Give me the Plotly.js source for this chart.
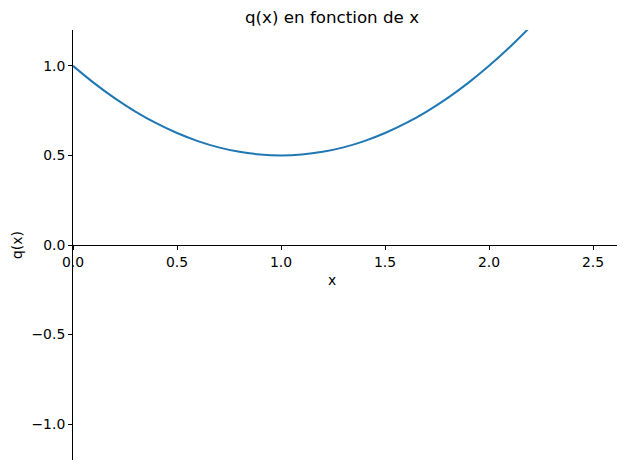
<!DOCTYPE html>
<html>
<head>
<meta charset="utf-8">
<script src="https://cdn.plot.ly/plotly-3.0.1.min.js"></script>
<style>html,body{margin:0;padding:0;background:#fff;} #chart{width:626px;height:470px;}</style>
</head>
<body>
<div id="chart"></div>
<script>
const xValues = [0.0, 0.1, 0.2, 0.3, 0.4, 0.5, 0.6, 0.7, 0.8, 0.9, 1.0, 1.1, 1.2, 1.3, 1.4, 1.5, 1.6, 1.7, 1.8, 1.9, 2.0, 2.1, 2.2, 2.3];
const qValues = [1.0, 0.905, 0.82, 0.745, 0.68, 0.625, 0.58, 0.545, 0.52, 0.505, 0.5, 0.505, 0.52, 0.545, 0.58, 0.625, 0.68, 0.745, 0.82, 0.905, 1.0, 1.105, 1.22, 1.345];
const xTicks = [0.0, 0.5, 1.0, 1.5, 2.0, 2.5];
const yTicks = [-1.0, -0.5, 0.0, 0.5, 1.0];

const font = {family: 'DejaVu Sans', size: 13.9, color: '#000'};

const trace = {
  x: xValues, y: qValues, type: 'scatter', mode: 'lines',
  line: {color: '#1f77b4', width: 2, shape: 'spline'},
  hoverinfo: 'skip'
};

const layout = {
  width: 626, height: 470,
  margin: {l: 73, r: 9, t: 30, b: 10},
  paper_bgcolor: '#fff', plot_bgcolor: '#fff',
  showlegend: false,
  font: font,
  title: {text: 'q(x) en fonction de x', font: {family: 'DejaVu Sans', size: 16.7, color: '#000'},
          x: 332/626, xref: 'container', xanchor: 'center', y: 1 - 17/470, yref: 'container', yanchor: 'middle'},
  xaxis: {
    range: [0, 2.615], anchor: 'free', position: 0.5,
    showgrid: false, zeroline: false, showline: true, linecolor: '#000', linewidth: 1,
    ticks: 'outside', ticklen: 4, tickwidth: 1, tickcolor: '#000',
    tickvals: xTicks, tickformat: '.1f', tickfont: font
  },
  yaxis: {
    range: [-1.2, 1.2], showgrid: false, zeroline: false, showline: true, linecolor: '#000', linewidth: 1,
    ticks: 'outside', ticklen: 4, tickwidth: 1, tickcolor: '#000',
    tickvals: yTicks, tickformat: '.1f', tickfont: font
  },
  annotations: [
    {text: 'x', xref: 'paper', yref: 'paper', x: (332-73)/544, y: (460-280)/430, xanchor: 'center', yanchor: 'middle', showarrow: false, font: font},
    {text: 'q(x)', xref: 'paper', yref: 'paper', x: (17-73)/544, y: 0.5, xanchor: 'center', yanchor: 'middle', textangle: -90, showarrow: false, font: font}
  ]
};

Plotly.newPlot('chart', [trace], layout, {displayModeBar: false, staticPlot: true});
</script>
</body>
</html>
